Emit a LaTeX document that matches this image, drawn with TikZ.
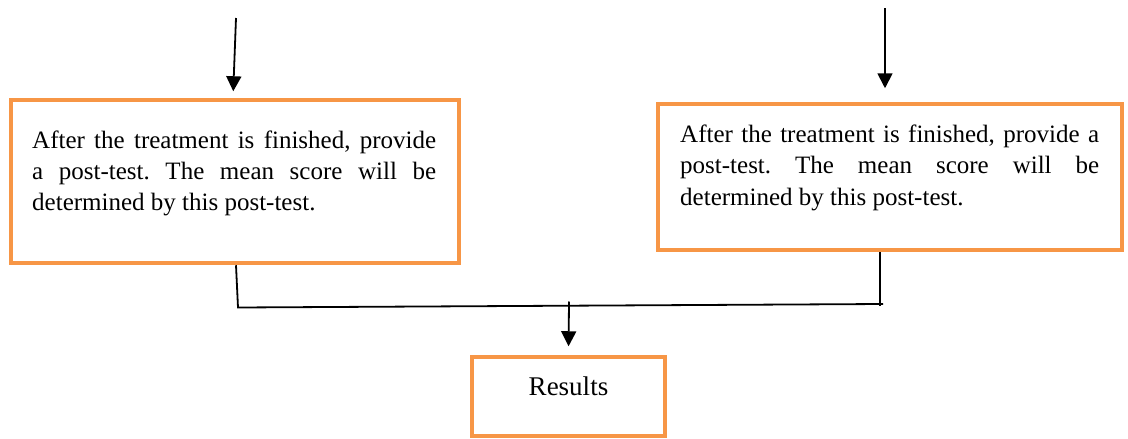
\documentclass[tikz,border=0pt]{standalone}
\usepackage{fontspec}
\setmainfont{Liberation Serif}
\usetikzlibrary{arrows.meta,calc}
\definecolor{boxorange}{HTML}{F79646}
\frenchspacing
\tikzset{
  obox/.style={draw=boxorange, line width=4.5pt, rectangle, inner sep=0pt},
  txt/.style={inner sep=0pt, font=\fontsize{25}{31}\selectfont},
  conn/.style={line width=1.8pt, black},
  arr/.style={line width=1.8pt, black, -{Triangle[length=15pt,width=15pt]}},
}
\begin{document}
\begin{tikzpicture}[x=1pt,y=-1pt]
\useasboundingbox (0,0) rectangle (1128,439);
% boxes
\node[obox, minimum width=448pt, minimum height=163pt] (L) at (235,181.5) {};
\node[obox, minimum width=464pt, minimum height=146pt] (R) at (890,177) {};
\node[obox, minimum width=193pt, minimum height=79pt, font=\fontsize{27}{32}\selectfont,
      text height=18.4pt, text depth=21pt] (Res) at (568.5,396.5) {Results};
% texts
\node[txt, anchor=north west] (Ltxt) at (32,131) {\parbox[t]{404pt}{\fontsize{25}{31}\selectfont
  \makebox[404pt][s]{After the treatment is finished, provide}\par
  \makebox[404pt][s]{a post-test. The mean score will be}\par
  determined by this post-test.}};
\node[txt, anchor=north west] (Rtxt) at (680,124.5) {\parbox[t]{419pt}{\fontsize{25}{31.5}\selectfont
  \makebox[419pt][s]{After the treatment is finished, provide a}\par
  \makebox[419pt][s]{post-test. The mean score will be}\par
  determined by this post-test.}};
% coordinates
\coordinate (ltop) at (236,18);
\coordinate (rtop) at (885,8);
\coordinate (jl) at (238,307.5);
\coordinate (jr) at (880,304);
\coordinate (mtop) at (569,301.5);
% arrows in
\draw[arr, shorten >=6.5pt] (ltop) -- ([xshift=-2pt]L.north);
\draw[arr, shorten >=13.5pt] (rtop) -- ([xshift=-5pt]R.north);
% join
\draw[conn] ([xshift=1pt]L.south) -- (jl) -- ([xshift=3pt]jr);
\draw[conn] (jr |- R.south) -- ([yshift=-2pt]jr);
\draw[arr, shorten >=8.5pt] (mtop) -- (Res.north);
\end{tikzpicture}
\end{document}
